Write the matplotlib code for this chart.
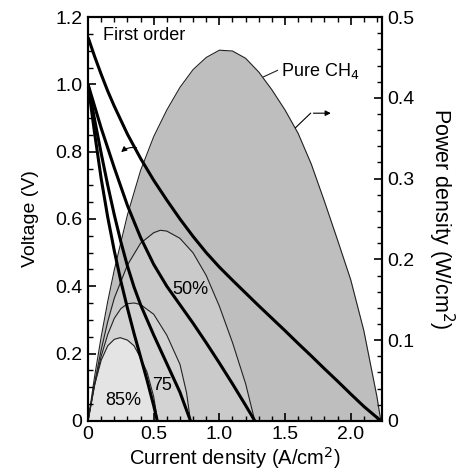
import matplotlib
matplotlib.use("Agg")
import matplotlib.pyplot as plt
from matplotlib.ticker import MultipleLocator, FuncFormatter

plt.rcParams["font.family"] = ["Liberation Sans", "DejaVu Sans"]

# voltage curves (A/cm2 -> V)
pure_i = [0, 0.05, 0.1, 0.15, 0.2, 0.3, 0.4, 0.5, 0.6, 0.7, 0.8, 0.9, 1.0,
          1.1, 1.2, 1.3, 1.4, 1.5, 1.6, 1.7, 1.8, 1.9, 2.0, 2.1, 2.23]
pure_v = [1.14, 1.083, 1.03, 0.98, 0.935, 0.852, 0.78, 0.715, 0.656, 0.6,
          0.548, 0.5, 0.457, 0.418, 0.38, 0.342, 0.305, 0.268, 0.23, 0.193,
          0.155, 0.118, 0.08, 0.043, 0.0]
h50_i = [0, 0.05, 0.1, 0.2, 0.3, 0.4, 0.5, 0.6, 0.7, 0.8, 0.9, 1.0, 1.1, 1.2, 1.27]
h50_v = [1.0, 0.935, 0.87, 0.752, 0.64, 0.545, 0.465, 0.4, 0.345, 0.29, 0.232,
         0.172, 0.11, 0.046, 0.0]
h75_i = [0, 0.05, 0.1, 0.15, 0.2, 0.25, 0.3, 0.35, 0.4, 0.5, 0.6, 0.7, 0.78]
h75_v = [1.0, 0.895, 0.795, 0.7, 0.612, 0.532, 0.46, 0.398, 0.345, 0.255,
         0.17, 0.085, 0.0]
h85_i = [0, 0.05, 0.1, 0.15, 0.2, 0.25, 0.3, 0.35, 0.4, 0.45, 0.5, 0.527]
h85_v = [1.0, 0.855, 0.72, 0.605, 0.505, 0.415, 0.335, 0.26, 0.19, 0.12,
         0.045, 0.0]

# power density curves (A/cm2 -> W/cm2)
pure_pi = [0, 0.05, 0.1, 0.15, 0.2, 0.3, 0.4, 0.5, 0.6, 0.7, 0.8, 0.9, 1.0,
           1.1, 1.2, 1.3, 1.4, 1.5, 1.6, 1.7, 1.8, 1.9, 2.0, 2.1, 2.2, 2.23]
pure_p = [0, 0.055, 0.104, 0.148, 0.187, 0.255, 0.31, 0.352, 0.385, 0.413,
          0.435, 0.45, 0.459, 0.458, 0.449, 0.432, 0.41, 0.385, 0.356, 0.318,
          0.272, 0.224, 0.175, 0.112, 0.03, 0]
h50_pi = [0, 0.05, 0.1, 0.15, 0.2, 0.3, 0.4, 0.5, 0.55, 0.6, 0.7, 0.8, 0.9,
          1.0, 1.1, 1.2, 1.27]
h50_p = [0, 0.047, 0.088, 0.123, 0.152, 0.193, 0.22, 0.233, 0.236, 0.235,
         0.226, 0.208, 0.18, 0.142, 0.097, 0.046, 0]
h75_pi = [0, 0.05, 0.1, 0.15, 0.2, 0.25, 0.3, 0.35, 0.4, 0.5, 0.6, 0.7, 0.75, 0.78]
h75_p = [0, 0.044, 0.08, 0.107, 0.127, 0.139, 0.145, 0.146, 0.144, 0.132,
         0.106, 0.07, 0.035, 0]
h85_pi = [0, 0.05, 0.1, 0.15, 0.2, 0.245, 0.3, 0.35, 0.4, 0.45, 0.5, 0.53]
h85_p = [0, 0.045, 0.075, 0.093, 0.101, 0.103, 0.1, 0.093, 0.078, 0.06, 0.03, 0]

fig = plt.figure(figsize=(4.61, 4.75), dpi=100)
ax = fig.add_axes([0.191, 0.114, 0.638, 0.85])
ax2 = ax.twinx()
ax.set_zorder(ax2.get_zorder() + 1)
ax.patch.set_visible(False)

# power fills on the right axis
fills = [
    (pure_pi, pure_p, "#bebebe"),
    (h50_pi, h50_p, "#cacaca"),
    (h75_pi, h75_p, "#d3d3d3"),
    (h85_pi, h85_p, "#e4e4e4"),
]
for xs, ys, c in fills:
    ax2.fill_between(xs, ys, 0, color=c, lw=0)
    ax2.plot(xs, ys, color="#222222", lw=0.8)

# voltage lines on the left axis
for xs, ys in [(pure_i, pure_v), (h50_i, h50_v), (h75_i, h75_v), (h85_i, h85_v)]:
    ax.plot(xs, ys, color="black", lw=2.2, solid_capstyle="butt")

ax.set_xlim(0, 2.24)
ax.set_ylim(0, 1.2)
ax2.set_ylim(0, 0.5)

fmt = FuncFormatter(lambda v, p: "0" if abs(v) < 1e-9 else f"{v:.1f}")
ax.xaxis.set_major_locator(MultipleLocator(0.5))
ax.xaxis.set_minor_locator(MultipleLocator(0.1))
ax.yaxis.set_major_locator(MultipleLocator(0.2))
ax.yaxis.set_minor_locator(MultipleLocator(0.05))
ax2.yaxis.set_major_locator(MultipleLocator(0.1))
ax2.yaxis.set_minor_locator(MultipleLocator(0.02))
ax.xaxis.set_major_formatter(fmt)
ax.yaxis.set_major_formatter(fmt)
ax2.yaxis.set_major_formatter(fmt)

ax.tick_params(which="both", direction="in", top=True, right=False,
               labelsize=14, pad=4)
ax.tick_params(which="major", length=6, width=1.2)
ax.tick_params(which="minor", length=3.5, width=1)
ax2.tick_params(which="both", direction="in", labelsize=14, pad=4)
ax2.tick_params(which="major", length=6, width=1.2)
ax2.tick_params(which="minor", length=3.5, width=1)
for a in (ax, ax2):
    for s in a.spines.values():
        s.set_linewidth(1.5)

ax.set_xlabel("Current density (A/cm$^2$)", fontsize=14.5, labelpad=1)
ax.set_ylabel("Voltage (V)", fontsize=14, labelpad=12)
ax2.set_ylabel("Power density (W/cm$^2$)", fontsize=15.5, rotation=270,
               labelpad=30)

ax.text(0.115, 1.144, "First order", fontsize=13, va="center")
ax.text(0.78, 0.39, "50%", fontsize=13, ha="center", va="center")
ax.text(0.565, 0.104, "75", fontsize=13, ha="center", va="center")
ax.text(0.27, 0.059, "85%", fontsize=13, ha="center", va="center")
ax2.text(1.466, 0.433, "Pure CH$_4$", fontsize=13, va="center")
ax2.plot([1.336, 1.443], [0.426, 0.434], color="#222222", lw=0.8)

ax.annotate("", xy=(0.237, 0.793), xytext=(0.39, 0.81),
            arrowprops=dict(arrowstyle="-|>", color="black", lw=0.8,
                            mutation_scale=8, connectionstyle="arc3,rad=0.3"))
ax2.plot([1.58, 1.695], [0.363, 0.381], color="black", lw=0.8)
ax2.annotate("", xy=(1.87, 0.381), xytext=(1.695, 0.381),
             arrowprops=dict(arrowstyle="-|>", color="black", lw=0.8,
                             mutation_scale=8))

fig.savefig("out.png", dpi=100)
